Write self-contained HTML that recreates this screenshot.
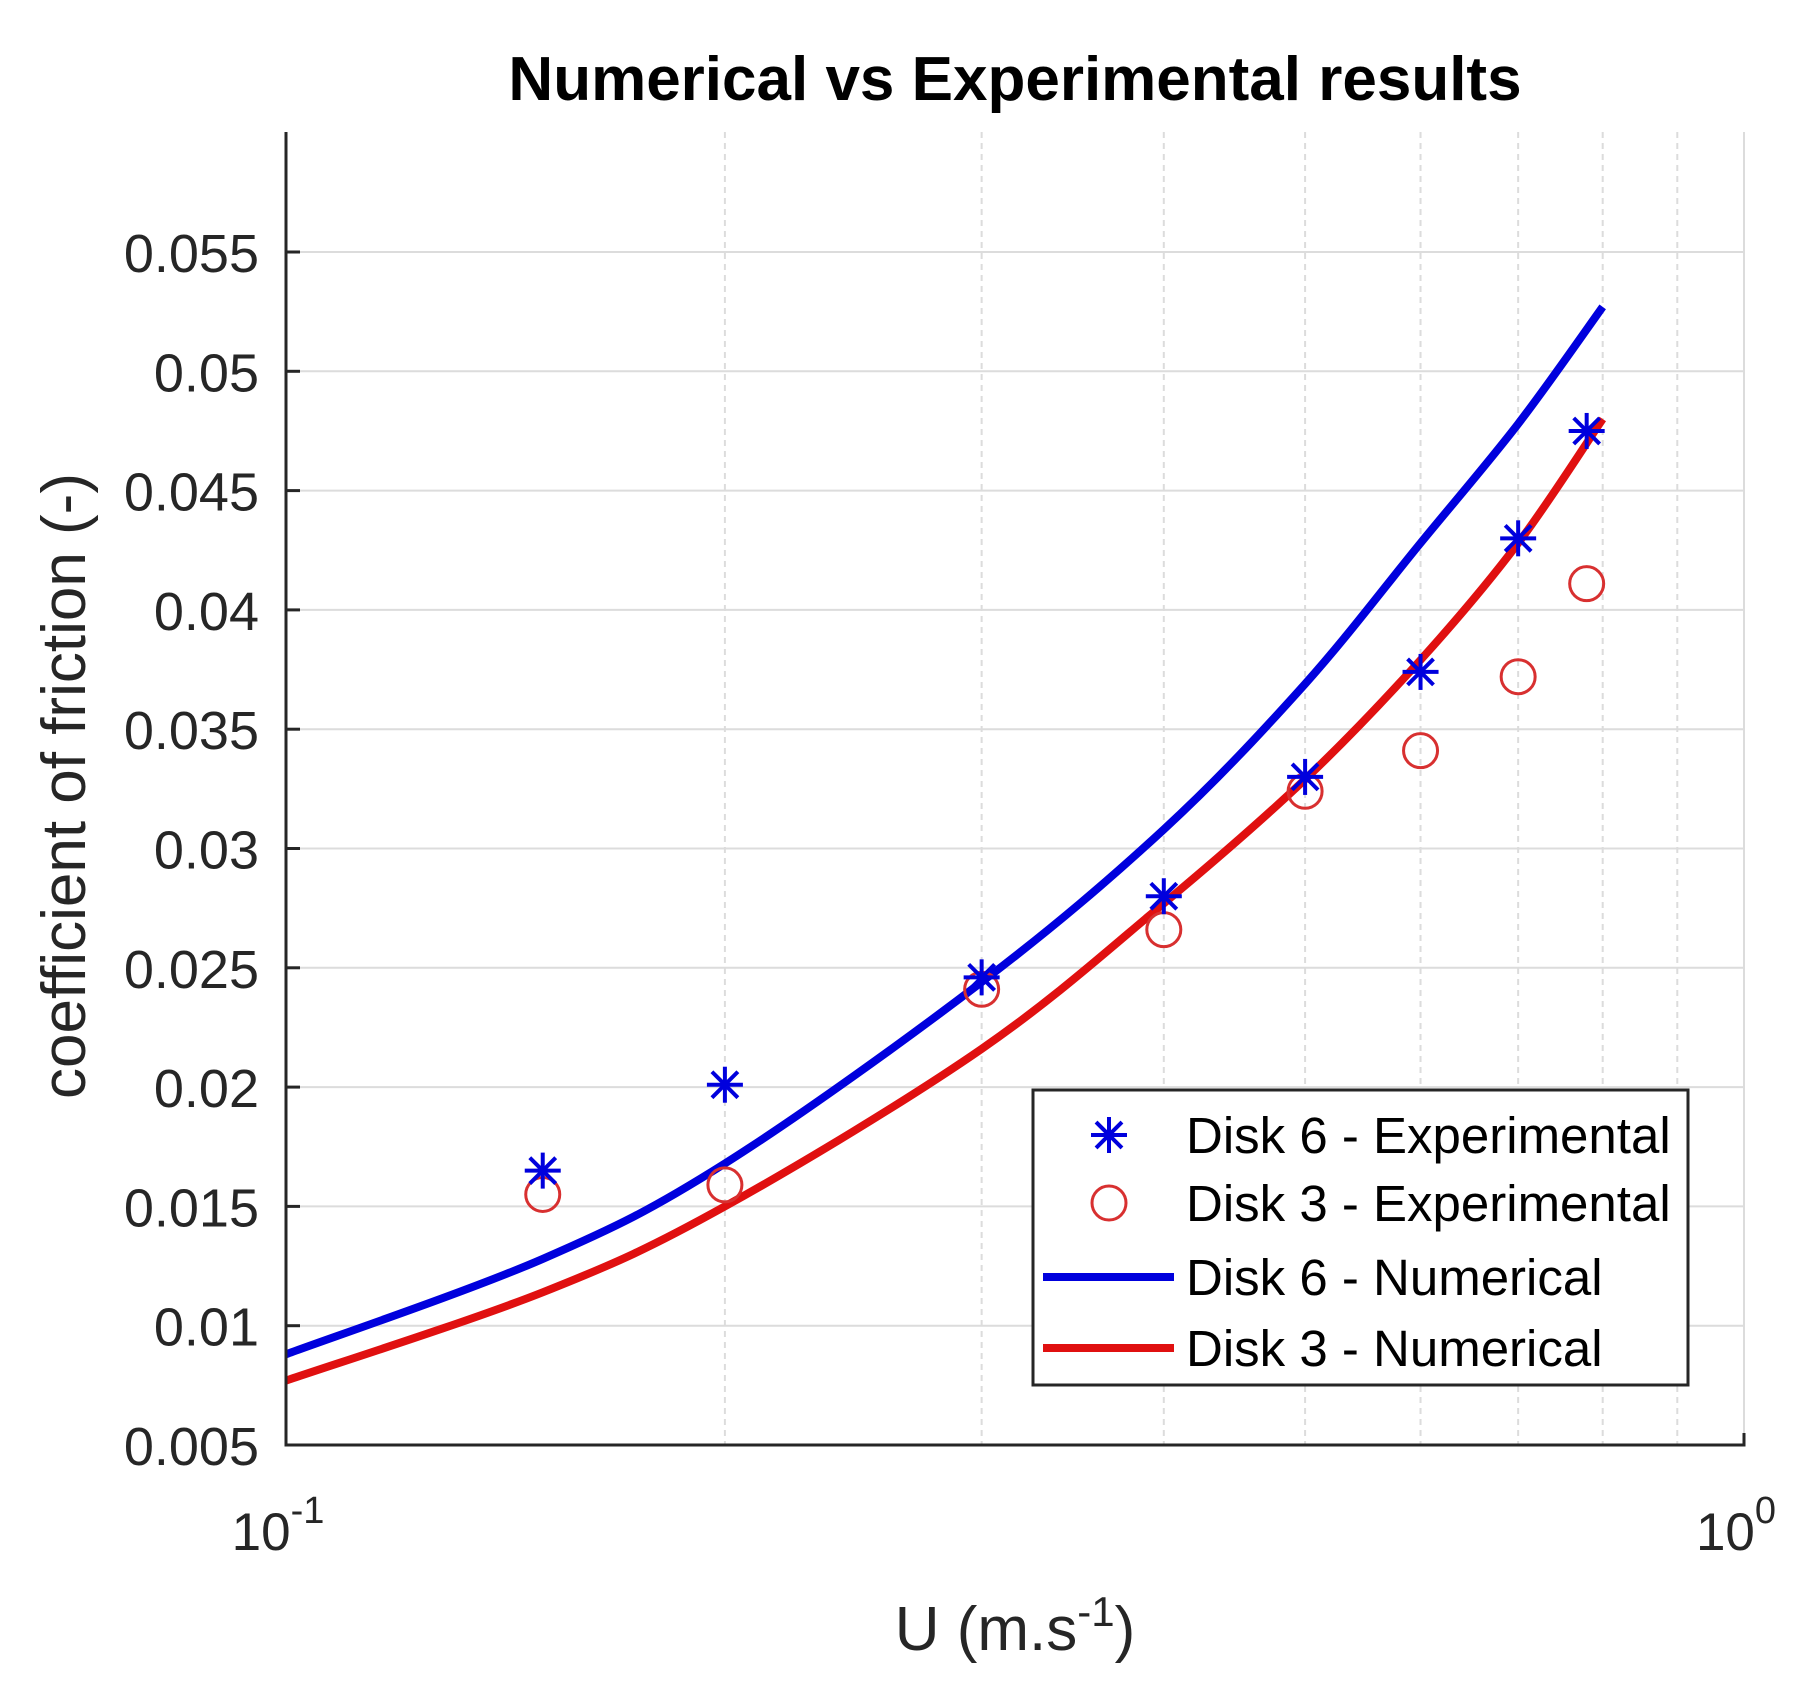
<!DOCTYPE html>
<html><head><meta charset="utf-8"><style>
html,body{margin:0;padding:0;background:#fff;}
svg text{font-family:"Liberation Sans",sans-serif;}
</style></head><body>
<svg id="chart" width="1817" height="1689" viewBox="0 0 1817 1689" xmlns="http://www.w3.org/2000/svg">
<rect width="1817" height="1689" fill="#fff"/>
<g id="grid"></g>
<g id="series"></g>
<g id="axes"></g>
<text x="1015" y="100" text-anchor="middle" font-size="62" font-weight="bold" fill="#000">Numerical vs Experimental results</text>
<text transform="translate(85,786) rotate(-90)" text-anchor="middle" font-size="62" fill="#262626">coefficient of friction (-)</text>
<text x="1015" y="1650" text-anchor="middle" font-size="62" fill="#262626">U (m.s<tspan dy="-24" font-size="42">-1</tspan><tspan dy="24">)</tspan></text>
<g id="legend">
<rect x="1033" y="1090" width="655" height="295" fill="#fff" stroke="#262626" stroke-width="3"/>
</g>
</svg>
<script>
const xDisk = [0.15, 0.2, 0.3, 0.4, 0.5, 0.6, 0.7, 0.78];
const disk6Exp = [0.0165, 0.0201, 0.0246, 0.0280, 0.0330, 0.0374, 0.0430, 0.0475];
const disk3Exp = [0.0155, 0.0159, 0.0241, 0.0266, 0.0324, 0.0341, 0.0372, 0.0411];
const xNum = [0.1, 0.15, 0.2, 0.3, 0.4, 0.5, 0.6, 0.7, 0.8];
const disk6Num = [0.0088, 0.0128, 0.0168, 0.0244, 0.0308, 0.0369, 0.0428, 0.0478, 0.0527];
const disk3Num = [0.0077, 0.0114, 0.0150, 0.0216, 0.0277, 0.0329, 0.0379, 0.0428, 0.0480];
const yTicks = [0.005, 0.01, 0.015, 0.02, 0.025, 0.03, 0.035, 0.04, 0.045, 0.05, 0.055];
const yTickLabels = ["0.005","0.01","0.015","0.02","0.025","0.03","0.035","0.04","0.045","0.05","0.055"];
const xMinor = [0.2,0.3,0.4,0.5,0.6,0.7,0.8,0.9];

const NS = "http://www.w3.org/2000/svg";
const L = 286, R = 1744, T = 132, B = 1445;
const xs = v => L + (Math.log10(v) + 1) * (R - L);
const ys = v => B - (v - 0.005) / 0.005 * 119.3;
function mk(tag, attrs, parent) {
  const e = document.createElementNS(NS, tag);
  for (const k in attrs) e.setAttribute(k, attrs[k]);
  parent.appendChild(e);
  return e;
}
const grid = document.getElementById('grid');
const axes = document.getElementById('axes');
const series = document.getElementById('series');

yTicks.forEach((t, i) => {
  const g = mk('line', {x1: L, x2: R, y1: ys(t), y2: ys(t), stroke: '#dcdcdc', 'stroke-width': 2}, grid);
  
  
  const tk = mk('line', {x1: L, x2: L + 14, y1: ys(t), y2: ys(t), stroke: '#262626', 'stroke-width': 3}, axes);
  
  
  const lb = mk('text', {x: 259, y: ys(t) + 20, 'text-anchor': 'end', 'font-size': 54, fill: '#262626'}, axes);
  lb.textContent = yTickLabels[i];
  
  
});
xMinor.forEach(v => {
  const g = mk('line', {x1: xs(v), x2: xs(v), y1: T, y2: B, stroke: '#dcdcdc', 'stroke-width': 2, 'stroke-dasharray': '6,5'}, grid);
  
  
});
const rg = mk('line', {x1: R, x2: R, y1: T, y2: B, stroke: '#dcdcdc', 'stroke-width': 2}, grid);



const ax = mk('path', {d: `M${L},${T} L${L},${B} L${R},${B} L${R},${B-12}`, fill: 'none', stroke: '#262626', 'stroke-width': 3}, axes);



[[0.1, '-1'], [1, '0']].forEach(([v, e]) => {
  const t = mk('text', {x: xs(v) - 8, y: 1550, 'text-anchor': 'middle', 'font-size': 53, fill: '#262626'}, axes);
  t.innerHTML = '10<tspan dy="-27" font-size="38">' + e + '</tspan>';
  
  
});

function line(xv, yv, color, name) {
  const P = xv.map((x, i) => [xs(x), ys(yv[i])]);
  let d = 'M' + P[0][0].toFixed(1) + ',' + P[0][1].toFixed(1);
  for (let i = 0; i < P.length - 1; i++) {
    const p0 = P[Math.max(0, i - 1)], p1 = P[i], p2 = P[i + 1], p3 = P[Math.min(P.length - 1, i + 2)];
    const c1 = [p1[0] + (p2[0] - p0[0]) / 6, p1[1] + (p2[1] - p0[1]) / 6];
    const c2 = [p2[0] - (p3[0] - p1[0]) / 6, p2[1] - (p3[1] - p1[1]) / 6];
    d += ' C' + c1.map(v => v.toFixed(1)).join(',') + ' ' + c2.map(v => v.toFixed(1)).join(',') + ' ' + p2.map(v => v.toFixed(1)).join(',');
  }
  const p = mk('path', {d: d, fill: 'none', stroke: color, 'stroke-width': 8, 'stroke-linejoin': 'round'}, series);
  
  
}
function star(cx, cy, s, parent, name) {
  const g = mk('g', {stroke: '#0000dd', 'stroke-width': 4}, parent);
  
  
  mk('line', {x1: cx - s, x2: cx + s, y1: cy, y2: cy}, g);
  mk('line', {x1: cx, x2: cx, y1: cy - s, y2: cy + s}, g);
  const d = s * 0.72;
  mk('line', {x1: cx - d, x2: cx + d, y1: cy - d, y2: cy + d}, g);
  mk('line', {x1: cx - d, x2: cx + d, y1: cy + d, y2: cy - d}, g);
}
function circ(cx, cy, parent, name) {
  const c = mk('circle', {cx: cx, cy: cy, r: 17, fill: 'none', stroke: '#d83030', 'stroke-width': 3}, parent);
  
  
}
line(xNum, disk6Num, '#0000dd', 'disk6-numerical-line');
line(xNum, disk3Num, '#e01010', 'disk3-numerical-line');
xDisk.forEach((x, i) => circ(xs(x), ys(disk3Exp[i]), series, 'disk3-exp-point'));
xDisk.forEach((x, i) => star(xs(x), ys(disk6Exp[i]), 18, series, 'disk6-exp-point'));

const lg = document.getElementById('legend');
const labels = ["Disk 6 - Experimental", "Disk 3 - Experimental", "Disk 6 - Numerical", "Disk 3 - Numerical"];
const ly = [1135, 1203, 1277, 1348];
star(1109, ly[0], 18, lg, 'legend-marker-disk6-exp');
circ(1109, ly[1], lg, 'legend-marker-disk3-exp');
const l1 = mk('line', {x1: 1043, x2: 1174, y1: ly[2], y2: ly[2], stroke: '#0000dd', 'stroke-width': 8}, lg);


const l2 = mk('line', {x1: 1043, x2: 1174, y1: ly[3], y2: ly[3], stroke: '#e01010', 'stroke-width': 8}, lg);


labels.forEach((s, i) => {
  const t = mk('text', {x: 1186, y: ly[i] + 18, 'font-size': 51, fill: '#000'}, lg);
  t.textContent = s;
  
  
});
</script>
</body></html>
